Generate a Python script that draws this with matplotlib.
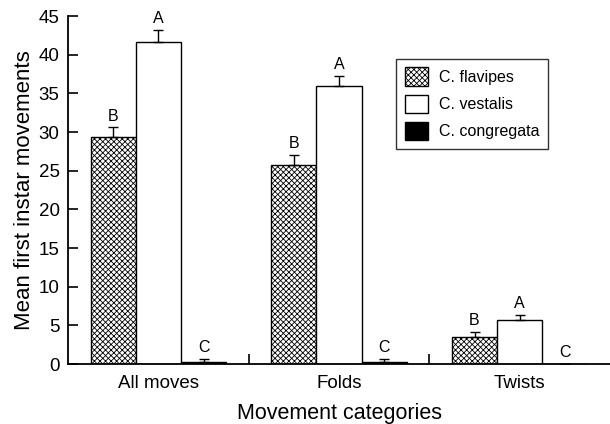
import matplotlib
matplotlib.use("Agg")
import matplotlib.pyplot as plt
import numpy as np

plt.rcParams['font.family'] = ['Liberation Sans', 'DejaVu Sans']
plt.rcParams['hatch.linewidth'] = 0.6
plt.rcParams['hatch.color'] = '#333333'

categories = ["All moves", "Folds", "Twists"]
species = ["C. flavipes", "C. vestalis", "C. congregata"]
flavipes = [29.4, 25.8, 3.5]
vestalis = [41.7, 35.9, 5.7]
congregata = [0.3, 0.3, 0.0]
flavipes_err = [1.2, 1.2, 0.6]
vestalis_err = [1.5, 1.4, 0.6]
congregata_err = [0.4, 0.4, 0.0]
flavipes_letters = ["B", "B", "B"]
vestalis_letters = ["A", "A", "A"]
congregata_letters = ["C", "C", "C"]

series = [
    (flavipes, flavipes_err, flavipes_letters, dict(facecolor="white", hatch="xxxxxx")),
    (vestalis, vestalis_err, vestalis_letters, dict(facecolor="white")),
    (congregata, congregata_err, congregata_letters, dict(facecolor="black")),
]

fig = plt.figure(figsize=(6.10, 4.24), dpi=100)
ax = fig.add_axes([0.1115, 0.1415, 0.8885, 0.8205])

x = np.arange(len(categories))
w = 0.25
handles = []
for i, (vals, errs, letters, style) in enumerate(series):
    pos = x + (i - 1) * w
    bars = ax.bar(pos, vals, width=w, edgecolor="black", linewidth=1.0,
                  label=species[i], **style)
    handles.append(bars)
    ax.errorbar(pos, vals, yerr=[np.zeros(len(errs)), errs], fmt="none",
                ecolor="black", elinewidth=1.0, capsize=3.5, capthick=1.0)
    for p, v, e, t in zip(pos, vals, errs, letters):
        ax.text(p, v + e + 0.5, t, ha="center", va="bottom", fontsize=11.5)

ax.set_xlim(-0.5, 2.5)
ax.set_ylim(0, 45)
ax.set_yticks(np.arange(0, 46, 5))
ax.set_xticks(x)
ax.set_xticklabels(categories)
ax.set_xticks([0.5, 1.5], minor=True)
ax.tick_params(axis="x", which="major", length=0, pad=8, labelsize=13.5)
ax.tick_params(axis="x", which="minor", direction="in", length=7, width=1.2)
ax.tick_params(axis="y", direction="in", length=7, width=1.2, pad=6, labelsize=13.5)
for s in ["top", "right"]:
    ax.spines[s].set_visible(False)
for s in ["left", "bottom"]:
    ax.spines[s].set_linewidth(1.3)

ax.set_xlabel("Movement categories", fontsize=15.5, labelpad=8)
ax.set_ylabel("Mean first instar movements", fontsize=16, labelpad=3)

leg = ax.legend(handles=handles, loc="upper left", bbox_to_anchor=(0.606, 0.878),
                fontsize=11.5, frameon=True, fancybox=False, edgecolor="black",
                handlelength=1.4, handleheight=1.4, handletextpad=0.7,
                labelspacing=0.55, borderpad=0.55, borderaxespad=0)
leg.get_frame().set_linewidth(1.0)

fig.savefig("out.png")
